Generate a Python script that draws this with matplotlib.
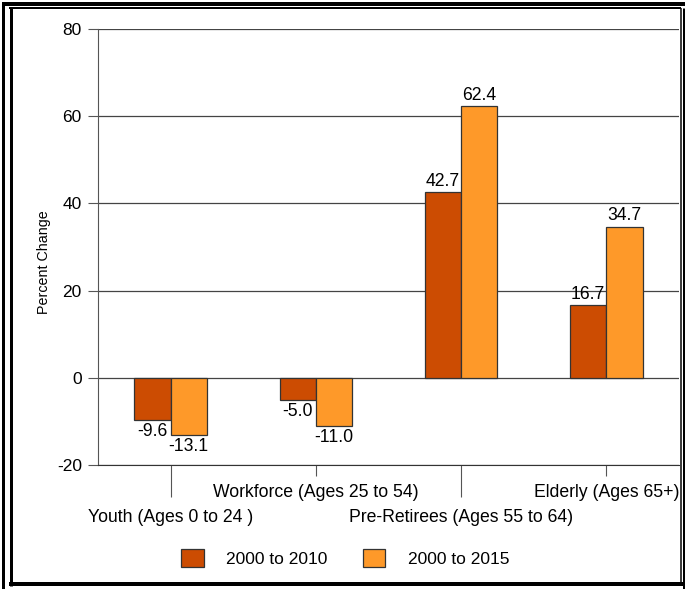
import numpy as np
import matplotlib.pyplot as plt
from matplotlib.lines import Line2D

plt.rcParams["font.family"] = ["Liberation Sans", "DejaVu Sans"]
plt.rcParams["axes.unicode_minus"] = False

groups = ["Youth (Ages 0 to 24 )", "Workforce (Ages 25 to 54)",
          "Pre-Retirees (Ages 55 to 64)", "Elderly (Ages 65+)"]
change_2010 = [-9.6, -5.0, 42.7, 16.7]
change_2015 = [-13.1, -11.0, 62.4, 34.7]
series_names = ["2000 to 2010", "2000 to 2015"]
colors = ["#CC4C02", "#FE9929"]

W, H = 685, 589
fig = plt.figure(figsize=(W / 100, H / 100), dpi=100)
ax = fig.add_axes([0.1431, 0.2105, 0.8481, 0.7403])

x = np.arange(len(groups))
w = 0.25
bars1 = ax.bar(x - w / 2, change_2010, w, color=colors[0], edgecolor="#333333",
               linewidth=0.9, zorder=3, label=series_names[0])
bars2 = ax.bar(x + w / 2, change_2015, w, color=colors[1], edgecolor="#333333",
               linewidth=0.9, zorder=3, label=series_names[1])

for bars, vals in [(bars1, change_2010), (bars2, change_2015)]:
    for b, v in zip(bars, vals):
        off = 1.5 if v >= 0 else -2.5
        ax.annotate(f"{v:.1f}", (b.get_x() + b.get_width() / 2, v),
                    xytext=(0, off), textcoords="offset points",
                    ha="center", va="bottom" if v >= 0 else "top",
                    fontsize=12.7, color="black", zorder=4)

ax.set_xlim(-0.5, 3.5)
ax.set_ylim(-20, 80)
ax.set_yticks([-20, 0, 20, 40, 60, 80])
ax.tick_params(axis="y", length=7.2, width=0.8, color="#555555", labelsize=12.5, pad=4.5)
ax.yaxis.grid(True, color="#444444", linewidth=0.9, zorder=0)
ax.set_axisbelow(True)
ax.set_ylabel("Percent Change", fontsize=10.3)
ax.yaxis.set_label_coords(-0.081, 0.466)

# staggered category labels: long ticks for 0 and 2, short for 1 and 3
ax.set_xticks([0, 2])
ax.set_xticklabels([groups[0], groups[2]])
ax.set_xticks([1, 3], minor=True)
ax.set_xticklabels([groups[1], groups[3]], minor=True)
ax.tick_params(axis="x", which="major", length=23, width=0.8, color="#555555",
               labelsize=12.7, pad=8.5)
ax.tick_params(axis="x", which="minor", length=8, width=0.8, color="#555555",
               labelsize=12.7, pad=6)

for side in ["top", "right"]:
    ax.spines[side].set_visible(False)
ax.spines["left"].set_color("#555555")
ax.spines["bottom"].set_color("#333333")

fig.legend(loc="center", bbox_to_anchor=(0.504, 0.0526), ncol=2, frameon=False,
           fontsize=12.5, handlelength=1.27, handleheight=1.27, handletextpad=1.27,
           columnspacing=2.1)


# double border, coordinates in pixels from the top-left corner
def frame_line(x0, y0, x1, y1, px):
    fig.add_artist(Line2D([x0 / W, x1 / W], [1 - y0 / H, 1 - y1 / H],
                          transform=fig.transFigure, color="black",
                          linewidth=px * 0.72, solid_capstyle="butt"))


frame_line(2, 3.5, W, 3.5, 4)        # outer top
frame_line(3, 2, 3, H, 3)            # outer left
frame_line(684, 8, 684, H, 3)        # outer right
frame_line(9, 8, 681, 8, 2)          # inner top
frame_line(10.5, 7, 10.5, 586, 3)    # inner left
frame_line(680.5, 8, 680.5, 584, 1.5)  # inner right
frame_line(9, 584, W, 584, 4)        # bottom

fig.savefig("out.png", dpi=100)
